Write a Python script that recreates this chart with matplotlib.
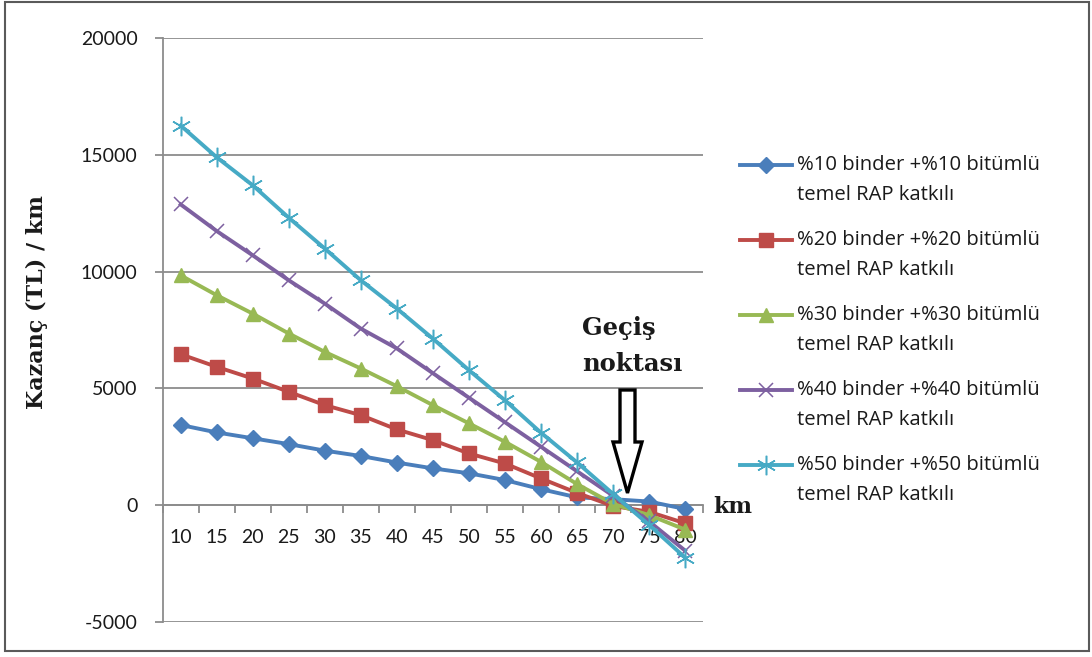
import numpy as np
import matplotlib
matplotlib.use("Agg")
import matplotlib.pyplot as plt
from matplotlib.lines import Line2D
from matplotlib.patches import Polygon, Rectangle

# data
km = [10, 15, 20, 25, 30, 35, 40, 45, 50, 55, 60, 65, 70, 75, 80]
rap10 = [3430, 3110, 2860, 2610, 2330, 2100, 1820, 1570, 1360, 1070, 680, 330, 250, 150, -170]
rap20 = [6460, 5920, 5420, 4850, 4280, 3850, 3240, 2780, 2210, 1780, 1140, 520, -40, -290, -780]
rap30 = [9840, 8990, 8200, 7350, 6560, 5850, 5090, 4280, 3500, 2710, 1850, 900, 50, -430, -1050]
rap40 = [12880, 11740, 10700, 9630, 8630, 7560, 6710, 5650, 4600, 3550, 2500, 1450, 400, -700, -1950]
rap50 = [16260, 14900, 13700, 12310, 10990, 9630, 8420, 7130, 5780, 4490, 3100, 1830, 480, -850, -2250]

labels = ["%10 binder +%10 bitümlü", "%20 binder +%20 bitümlü",
          "%30 binder +%30 bitümlü", "%40 binder +%40 bitümlü",
          "%50 binder +%50 bitümlü"]
label2 = "temel RAP katkılı"
yticks = [-5000, 0, 5000, 10000, 15000, 20000]

colors = ["#4a7ebb", "#be4b48", "#98b954", "#7d60a0", "#46aac5"]
markers = ["D", "s", "^", "x", (6, 2, 0)]
msizes = [8, 10, 10, 10, 14]
mews = [1, 1, 1, 1.1, 1.1]

W, H = 1092, 657
GRID = "#8c8c8c"
TXT = "#1a1a1a"


def fx(px):
    return px / W


def fy(py):
    return 1 - py / H


fig = plt.figure(figsize=(W / 100, H / 100), dpi=100)
plt.rcParams["font.family"] = ["Lato", "DejaVu Sans"]

ax = fig.add_axes([fx(162.7), fy(621.7), fx(703) - fx(162.7), fy(38.3) - fy(621.7)])

x = np.arange(len(km))
series = [rap10, rap20, rap30, rap40, rap50]
for vals, c, m, ms, mew in zip(series, colors, markers, msizes, mews):
    ax.plot(x, vals, color=c, lw=2.8, marker=m, ms=ms, mfc=c, mec=c, mew=mew,
            zorder=3)

ax.set_xlim(-0.5, len(km) - 0.5)
ax.set_ylim(-5000, 20000)
ax.set_yticks(yticks)
ax.set_yticklabels([str(v) for v in yticks])
ax.set_xticks(x)
ax.set_xticklabels([str(k) for k in km])
ax.set_xticks(np.arange(-0.5, len(km)), minor=True)

ax.spines["top"].set_visible(False)
ax.spines["right"].set_visible(False)
ax.spines["bottom"].set_position(("data", 0))
for s in ("left", "bottom"):
    ax.spines[s].set_color(GRID)
    ax.spines[s].set_linewidth(1.3)

ax.yaxis.grid(True, color=GRID, lw=1.3)
ax.set_axisbelow(True)
ax.tick_params(axis="y", length=6, width=1.3, color=GRID, pad=12,
               labelsize=14, labelcolor=TXT)
ax.tick_params(axis="x", which="major", length=0, pad=17, labelsize=14,
               labelcolor=TXT)
ax.tick_params(axis="x", which="minor", length=6, width=1.3, color=GRID)

# axis titles
fig.text(fx(37), fy(302), "Kazanç (TL) / km", rotation=90, ha="center",
         va="center", family="DejaVu Serif", weight="bold", size=16,
         color=TXT)
fig.text(fx(713), fy(507), "km", ha="left", va="center", family="DejaVu Serif",
         weight="bold", size=16, color=TXT)

# crossing point note and arrow
fig.text(fx(582), fy(335), "Geçiş", ha="left", va="baseline",
         family="DejaVu Serif", weight="bold", size=17.5, color=TXT)
fig.text(fx(582), fy(371), "noktası", ha="left", va="baseline",
         family="DejaVu Serif", weight="bold", size=17.5, color=TXT)
arrow_px = [(620, 390), (635, 390), (635, 442), (642, 442), (627.5, 493),
            (613, 442), (620, 442)]
fig.add_artist(Polygon([(fx(a), fy(b)) for a, b in arrow_px], closed=True,
                       transform=fig.transFigure, facecolor="white",
                       edgecolor="black", lw=2.4, zorder=5))

# legend
for i, (lab, c, m, ms, mew) in enumerate(zip(labels, colors, markers, msizes, mews)):
    yc = 165 + 75 * i
    fig.add_artist(Line2D([fx(740), fx(766), fx(792)], [fy(yc)] * 3,
                          transform=fig.transFigure, color=c, lw=2.8,
                          marker=m, ms=ms, mfc=c, mec=c, mew=mew,
                          markevery=[1]))
    fig.text(fx(797), fy(yc), lab, ha="left", va="center", size=14.6,
             family="Open Sans", color=TXT)
    fig.text(fx(797), fy(yc + 30), label2, ha="left", va="center", size=14.6,
             family="Open Sans", color=TXT)

# outer frame
fig.add_artist(Rectangle((fx(5), fy(651)), fx(1089) - fx(5), fy(2) - fy(651),
                         transform=fig.transFigure, fill=False,
                         edgecolor="#5a5a5a", lw=1.5))

fig.savefig("out.png", dpi=100)
